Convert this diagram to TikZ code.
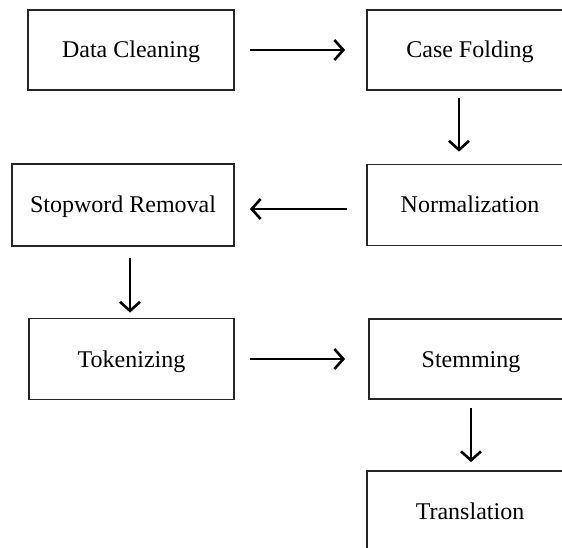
\documentclass[tikz,border=0pt]{standalone}
\usepackage{fontspec}
\setmainfont{Liberation Serif}
\usetikzlibrary{arrows.meta}

\begin{document}
\begin{tikzpicture}[x=1pt,y=-1pt,>={Straight Barb[length=9pt,width=20pt]}]
		%---------------- Styles ----------------
		\tikzset{
			stepbox/.style={draw=black!85, line width=1.8pt, rectangle, inner sep=0pt,
				minimum width=206pt, minimum height=80pt,
				text height=18pt, text depth=2pt,
				font=\fontsize{24}{28}\selectfont},  % process boxes
			flow/.style={->, line width=2.6pt, black}, % arrows between boxes
		}
		
		%---------------- Columns & rows ----------------
		\def\xl{131}   % left column
		\def\xr{470}   % right column
		\def\ya{50}    % row 1
		\def\yb{205}   % row 2
		\def\yc{359}   % row 3
		\def\yd{511}   % row 4
		
		%---------------- Frame (right and bottom boxes run off the page) ----------------
		\useasboundingbox (0,0) rectangle (562,548);
		\clip (0,0) rectangle (562,548);
		
		%---------------- Boxes ----------------
		\node[stepbox] (clean) at (\xl,\ya) {Data Cleaning};
		\node[stepbox] (fold)  at (\xr,\ya) {Case Folding};
		\node[stepbox, minimum width=222pt, minimum height=82pt] (stop) at (123,\yb) {Stopword Removal};
		\node[stepbox, minimum height=81pt] (norm) at (\xr,\yb) {Normalization};
		\node[stepbox, minimum width=205pt, minimum height=81pt] (token) at (131.5,\yc) {Tokenizing};
		\node[stepbox, minimum width=204pt] (stem) at (471,\yc) {Stemming};
		\node[stepbox] (trans) at (\xr,\yd) {Translation};
		
		%---------------- Arrows ----------------
		\draw[flow, shorten <=15pt, shorten >=21pt] (clean.east) -- (fold.west);
		\draw[flow, shorten <=7pt, shorten >=12pt] ([xshift=-11pt]fold.south) -- ([xshift=-11pt]norm.north);
		\draw[flow, shorten <=19pt, shorten >=15pt] ([yshift=-4pt]norm.west) -- ([yshift=-4pt]stop.east);
		\draw[flow, shorten <=11pt, shorten >=5pt] ([xshift=7pt]stop.south) -- ([xshift=-1.5pt]token.north);
		\draw[flow, shorten <=15pt, shorten >=23pt] (token.east) -- (stem.west);
		\draw[flow, shorten <=8pt, shorten >=8pt] (stem.south) -- ([xshift=1pt]trans.north);
	\end{tikzpicture}
\end{document}
